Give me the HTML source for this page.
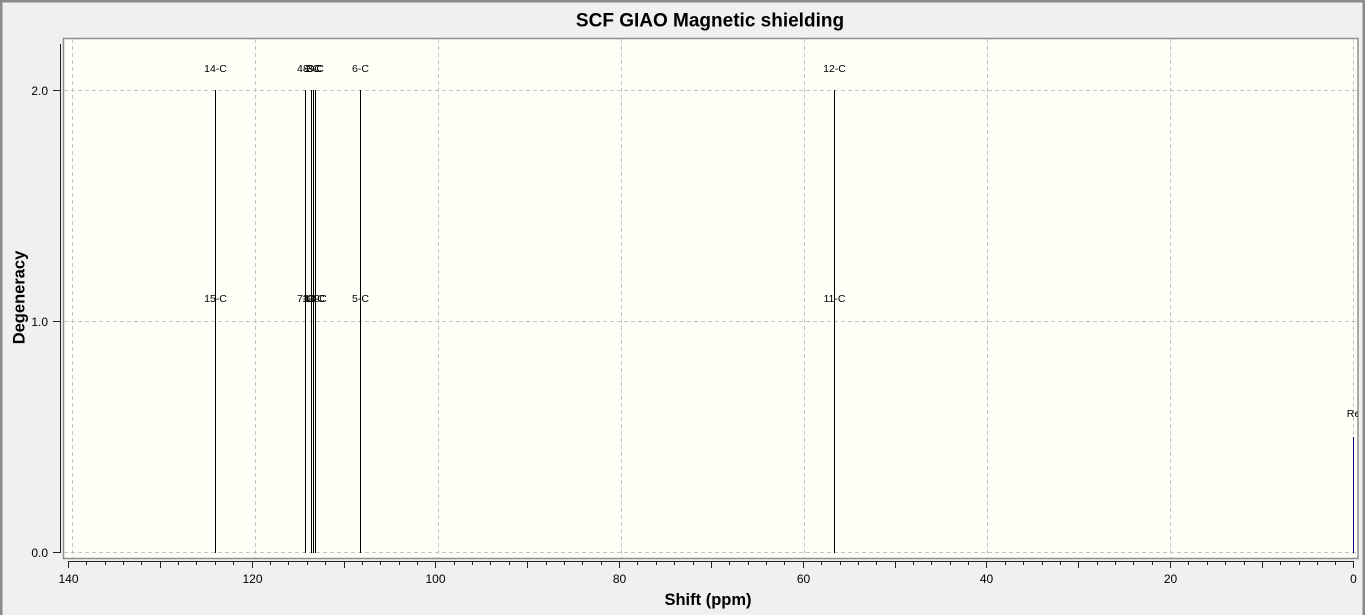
<!DOCTYPE html>
<html><head><meta charset="utf-8"><style>
html,body{margin:0;padding:0;background:#f0f0f0;}
svg{display:block;}
text{font-family:"Liberation Sans",Arial,sans-serif;fill:#000;}
</style></head><body>
<svg width="1365" height="615" viewBox="0 0 1365 615" xmlns="http://www.w3.org/2000/svg">
<defs><clipPath id="pc"><rect x="63" y="38" width="1295" height="520"/></clipPath></defs>
<rect x="0" y="0" width="1365" height="615" fill="#f0f0f0"/>
<!-- outer frame -->
<rect x="0" y="0" width="1365" height="2.5" fill="#8a8a8a"/>
<rect x="0" y="0" width="2.5" height="615" fill="#8a8a8a"/>
<rect x="1362.5" y="0" width="2.5" height="615" fill="#8a8a8a"/>
<!-- title -->
<text x="710" y="26.5" font-size="19" font-weight="bold" text-anchor="middle">SCF GIAO Magnetic shielding</text>
<!-- plot area -->
<rect x="63.5" y="38.5" width="1294.5" height="520" fill="#fffff7" stroke="#8f8f8f" stroke-width="1.5"/>
<g stroke="#c4c4c4" stroke-width="1" stroke-dasharray="4,3" shape-rendering="crispEdges">
<line x1="72.5" y1="39" x2="72.5" y2="558"/>
<line x1="255.5" y1="39" x2="255.5" y2="558"/>
<line x1="438.5" y1="39" x2="438.5" y2="558"/>
<line x1="621.5" y1="39" x2="621.5" y2="558"/>
<line x1="804.5" y1="39" x2="804.5" y2="558"/>
<line x1="987.5" y1="39" x2="987.5" y2="558"/>
<line x1="1170.5" y1="39" x2="1170.5" y2="558"/>
<line x1="1353.5" y1="39" x2="1353.5" y2="558"/>
<line x1="64" y1="90.5" x2="1357" y2="90.5"/>
<line x1="64" y1="321.5" x2="1357" y2="321.5"/>
<line x1="64" y1="552.5" x2="1357" y2="552.5"/>
</g>
<!-- sticks -->
<g stroke="#000" stroke-width="1" shape-rendering="crispEdges">
<line x1="215.5" y1="90" x2="215.5" y2="553"/>
<line x1="305.5" y1="90" x2="305.5" y2="553"/>
<line x1="311.5" y1="90" x2="311.5" y2="553"/>
<line x1="313.5" y1="90" x2="313.5" y2="553"/>
<line x1="315.5" y1="90" x2="315.5" y2="553"/>
<line x1="360.5" y1="90" x2="360.5" y2="553"/>
<line x1="834.5" y1="90" x2="834.5" y2="553"/>
</g>
<line x1="1353.5" y1="437" x2="1353.5" y2="553" stroke="#000080" stroke-width="1.2" shape-rendering="crispEdges"/>
<!-- peak labels -->
<g font-size="10.5" text-anchor="middle" clip-path="url(#pc)">
<text x="215.5" y="72">14-C</text>
<text x="215.5" y="302">15-C</text>
<text x="305.5" y="72">4-C</text>
<text x="305.5" y="302">7-C</text>
<text x="311.5" y="72">8-C</text>
<text x="311.5" y="302">1-C</text>
<text x="313.5" y="72">2-C</text>
<text x="313.5" y="302">10-C</text>
<text x="315.5" y="72">3-C</text>
<text x="315.5" y="302">13-C</text>
<text x="360.5" y="72">6-C</text>
<text x="360.5" y="302">5-C</text>
<text x="834.5" y="72">12-C</text>
<text x="834.5" y="302">11-C</text>
<text x="1353.5" y="417">Re</text>
</g>
<!-- y axis -->
<g stroke="#222" stroke-width="1" shape-rendering="crispEdges">
<line x1="60.5" y1="44" x2="60.5" y2="553"/>
<line x1="53" y1="90.5" x2="60.5" y2="90.5"/>
<line x1="53" y1="321.5" x2="60.5" y2="321.5"/>
<line x1="53" y1="552.5" x2="60.5" y2="552.5"/>
</g>
<g font-size="12" text-anchor="end">
<text x="48" y="95">2.0</text>
<text x="48" y="326">1.0</text>
<text x="48" y="557">0.0</text>
</g>
<text transform="translate(24.5,297.5) rotate(-90)" font-size="16.5" font-weight="bold" text-anchor="middle">Degeneracy</text>
<!-- x axis -->
<g stroke="#222" stroke-width="1" shape-rendering="crispEdges">
<line x1="68" y1="561.5" x2="1354" y2="561.5"/>
<line x1="68.5" y1="561" x2="68.5" y2="568"/><line x1="86.5" y1="561" x2="86.5" y2="565"/><line x1="105.5" y1="561" x2="105.5" y2="565"/><line x1="123.5" y1="561" x2="123.5" y2="565"/><line x1="141.5" y1="561" x2="141.5" y2="565"/>
<line x1="160.5" y1="561" x2="160.5" y2="568"/><line x1="178.5" y1="561" x2="178.5" y2="565"/><line x1="196.5" y1="561" x2="196.5" y2="565"/><line x1="215.5" y1="561" x2="215.5" y2="565"/><line x1="233.5" y1="561" x2="233.5" y2="565"/>
<line x1="252.5" y1="561" x2="252.5" y2="568"/><line x1="270.5" y1="561" x2="270.5" y2="565"/><line x1="288.5" y1="561" x2="288.5" y2="565"/><line x1="307.5" y1="561" x2="307.5" y2="565"/><line x1="325.5" y1="561" x2="325.5" y2="565"/>
<line x1="344.5" y1="561" x2="344.5" y2="568"/><line x1="362.5" y1="561" x2="362.5" y2="565"/><line x1="380.5" y1="561" x2="380.5" y2="565"/><line x1="399.5" y1="561" x2="399.5" y2="565"/><line x1="417.5" y1="561" x2="417.5" y2="565"/>
<line x1="435.5" y1="561" x2="435.5" y2="568"/><line x1="454.5" y1="561" x2="454.5" y2="565"/><line x1="472.5" y1="561" x2="472.5" y2="565"/><line x1="490.5" y1="561" x2="490.5" y2="565"/><line x1="509.5" y1="561" x2="509.5" y2="565"/>
<line x1="527.5" y1="561" x2="527.5" y2="568"/><line x1="546.5" y1="561" x2="546.5" y2="565"/><line x1="564.5" y1="561" x2="564.5" y2="565"/><line x1="582.5" y1="561" x2="582.5" y2="565"/><line x1="601.5" y1="561" x2="601.5" y2="565"/>
<line x1="619.5" y1="561" x2="619.5" y2="568"/><line x1="637.5" y1="561" x2="637.5" y2="565"/><line x1="656.5" y1="561" x2="656.5" y2="565"/><line x1="674.5" y1="561" x2="674.5" y2="565"/><line x1="693.5" y1="561" x2="693.5" y2="565"/>
<line x1="711.5" y1="561" x2="711.5" y2="568"/><line x1="729.5" y1="561" x2="729.5" y2="565"/><line x1="748.5" y1="561" x2="748.5" y2="565"/><line x1="766.5" y1="561" x2="766.5" y2="565"/><line x1="784.5" y1="561" x2="784.5" y2="565"/>
<line x1="803.5" y1="561" x2="803.5" y2="568"/><line x1="821.5" y1="561" x2="821.5" y2="565"/><line x1="840.5" y1="561" x2="840.5" y2="565"/><line x1="858.5" y1="561" x2="858.5" y2="565"/><line x1="876.5" y1="561" x2="876.5" y2="565"/>
<line x1="895.5" y1="561" x2="895.5" y2="568"/><line x1="913.5" y1="561" x2="913.5" y2="565"/><line x1="931.5" y1="561" x2="931.5" y2="565"/><line x1="950.5" y1="561" x2="950.5" y2="565"/><line x1="968.5" y1="561" x2="968.5" y2="565"/>
<line x1="986.5" y1="561" x2="986.5" y2="568"/><line x1="1005.5" y1="561" x2="1005.5" y2="565"/><line x1="1023.5" y1="561" x2="1023.5" y2="565"/><line x1="1042.5" y1="561" x2="1042.5" y2="565"/><line x1="1060.5" y1="561" x2="1060.5" y2="565"/>
<line x1="1078.5" y1="561" x2="1078.5" y2="568"/><line x1="1097.5" y1="561" x2="1097.5" y2="565"/><line x1="1115.5" y1="561" x2="1115.5" y2="565"/><line x1="1133.5" y1="561" x2="1133.5" y2="565"/><line x1="1152.5" y1="561" x2="1152.5" y2="565"/>
<line x1="1170.5" y1="561" x2="1170.5" y2="568"/><line x1="1188.5" y1="561" x2="1188.5" y2="565"/><line x1="1207.5" y1="561" x2="1207.5" y2="565"/><line x1="1225.5" y1="561" x2="1225.5" y2="565"/><line x1="1244.5" y1="561" x2="1244.5" y2="565"/>
<line x1="1262.5" y1="561" x2="1262.5" y2="568"/><line x1="1280.5" y1="561" x2="1280.5" y2="565"/><line x1="1299.5" y1="561" x2="1299.5" y2="565"/><line x1="1317.5" y1="561" x2="1317.5" y2="565"/><line x1="1335.5" y1="561" x2="1335.5" y2="565"/>
<line x1="1353.5" y1="561" x2="1353.5" y2="568"/>
</g>
<g font-size="12" text-anchor="middle">
<text x="68.5" y="583">140</text>
<text x="252.5" y="583">120</text>
<text x="435.5" y="583">100</text>
<text x="619.5" y="583">80</text>
<text x="803.5" y="583">60</text>
<text x="986.5" y="583">40</text>
<text x="1170.5" y="583">20</text>
<text x="1353.5" y="583">0</text>
</g>
<text x="708" y="605" font-size="16.5" font-weight="bold" text-anchor="middle">Shift (ppm)</text>
</svg>
</body></html>
